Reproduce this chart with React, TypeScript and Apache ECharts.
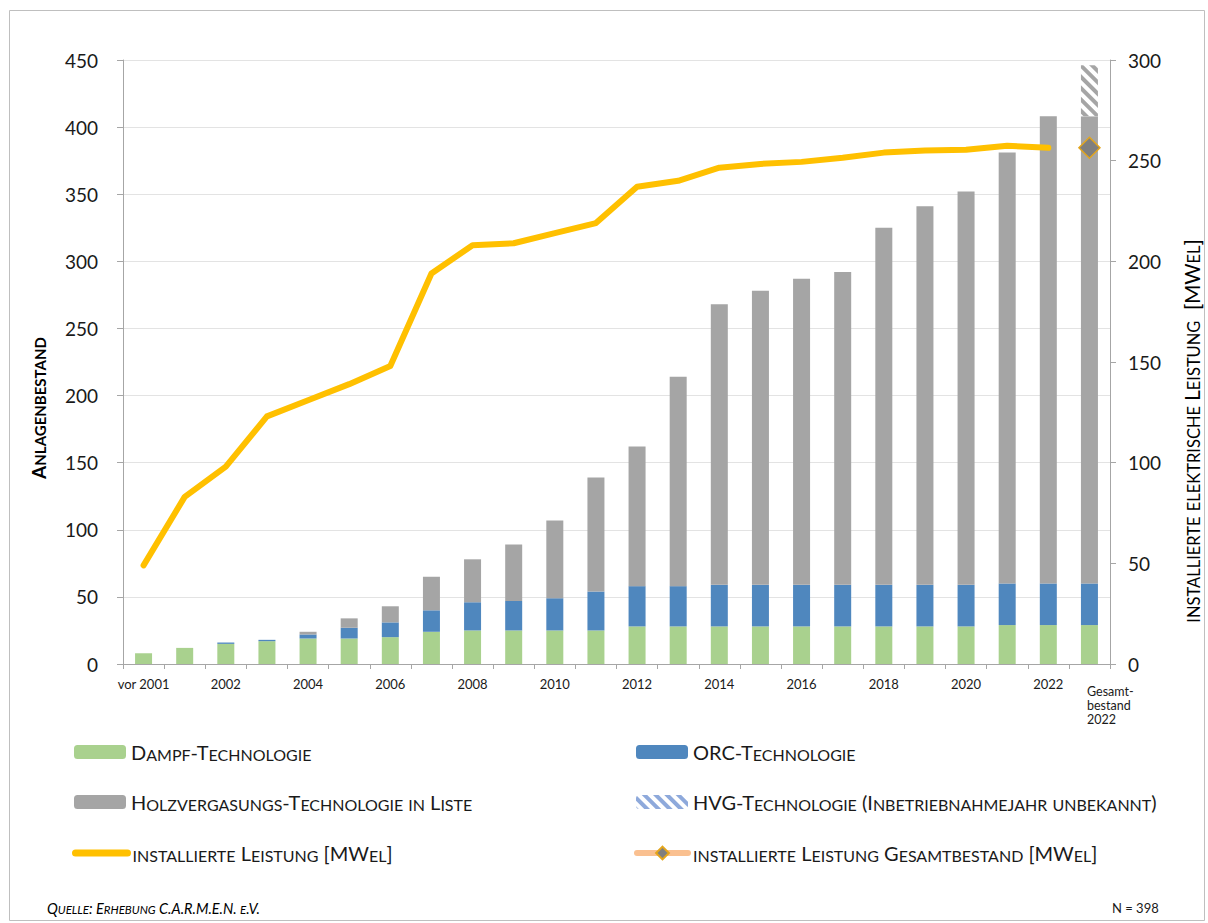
import React, { useEffect, useRef } from 'react';
import * as echarts from 'echarts';

const FONT = 'Lato, "Noto Sans", sans-serif';

const categories = ['vor 2001', '2001', '2002', '2003', '2004', '2005', '2006', '2007', '2008', '2009', '2010', '2011', '2012', '2013', '2014', '2015', '2016', '2017', '2018', '2019', '2020', '2021', '2022', 'Gesamtbestand 2022'];
const lastCategoryLabel = 'Gesamt-\nbestand\n2022';

const dampf = [8, 12, 15, 17, 19, 19, 20, 24, 25, 25, 25, 25, 28, 28, 28, 28, 28, 28, 28, 28, 28, 29, 29, 29];
const orc = [0, 0, 1, 1, 3, 8, 11, 16, 21, 22, 24, 29, 30, 30, 31, 31, 31, 31, 31, 31, 31, 31, 31, 31];
const hvgListe = [0, 0, 0, 0, 2, 7, 12, 25, 32, 42, 58, 85, 104, 156, 209, 219, 228, 233, 266, 282, 293, 321, 348, 348];
const hvgUnbekannt = [null, null, null, null, null, null, null, null, null, null, null, null, null, null, null, null, null, null, null, null, null, null, null, 38];
const leistung = [49, 83, 98, 123, 131, 139, 148, 194, 208, 209, 214, 219, 237, 240, 246.5, 248.4, 249.4, 251.4, 254, 255, 255.4, 257.4, 256.4, null];
const leistungGesamt = [null, null, null, null, null, null, null, null, null, null, null, null, null, null, null, null, null, null, null, null, null, null, null, 256.4];

const leftTicks = { min: 0, max: 450, interval: 50 };
const rightTicks = { min: 0, max: 300, interval: 50 };

const N_NAMES = {
  dampf: 'Dampf-Technologie',
  orc: 'ORC-Technologie',
  hvg: 'Holzvergasungs-Technologie in Liste',
  hvgU: 'HVG-Technologie (Inbetriebnahmejahr unbekannt)',
  line: 'installierte Leistung [MWel]',
  lineG: 'installierte Leistung Gesamtbestand [MWel]',
};

// small caps helper -> rich text
function sc(t: string): string {
  let out = '';
  let cur = '';
  let mode = '';
  for (const ch of t) {
    const lower = ch !== ch.toUpperCase();
    const m = lower ? 's' : 'b';
    if (m !== mode) {
      if (cur) out += `{${mode}|${cur}}`;
      cur = '';
      mode = m;
    }
    cur += lower ? ch.toUpperCase() : ch;
  }
  if (cur) out += `{${mode}|${cur}}`;
  return out;
}

const richFor = (big: number, small: number, extra: any = {}) => ({
  b: { fontSize: big, fontFamily: FONT, color: '#1a1a1a', verticalAlign: 'bottom', ...extra },
  s: { fontSize: small, fontFamily: FONT, color: '#1a1a1a', verticalAlign: 'bottom', ...extra },
});

const legendRich = richFor(20, 16);

function legendAt(item: any, left: number, centerY: number, extra: any = {}) {
  const ih = extra.itemHeight || 14;
  return {
    show: true,
    data: [item],
    left,
    padding: 0,
    itemWidth: 52,
    itemHeight: 14,
    selectedMode: false,
    formatter: (n: string) => sc(n),
    textStyle: { rich: legendRich, fontFamily: FONT },
    ...extra,
    top: centerY - Math.max(ih, 24) / 2,
  };
}

const hatch = (color: string) => ({
  symbol: 'rect',
  color,
  backgroundColor: '#fff',
  dashArrayX: [1, 0],
  dashArrayY: [4, 4],
  rotation: Math.PI / 4,
});

const option: any = {
  animation: false,
  backgroundColor: '#fff',
  textStyle: { fontFamily: FONT },
  grid: { left: 123, right: 98, top: 60, bottom: 259, containLabel: false },
  xAxis: {
    type: 'category',
    data: categories,
    axisLine: { lineStyle: { color: '#A6A6A6', width: 1 } },
    axisTick: { show: true, interval: 0, length: 5, lineStyle: { color: '#A6A6A6' } },
    axisLabel: {
      interval: 0,
      fontSize: 13,
      color: '#1a1a1a',
      fontFamily: FONT,
      margin: 13,
      formatter: (v: string, i: number) => (i === categories.length - 1 ? '' : i % 2 === 0 ? v : ''),
    },
  },
  yAxis: [
    {
      type: 'value',
      ...leftTicks,
      position: 'left',
      axisLine: { show: true, lineStyle: { color: '#A6A6A6' } },
      axisTick: { show: true, length: 6, lineStyle: { color: '#A6A6A6' } },
      axisLabel: { fontSize: 19, color: '#1a1a1a', margin: 25, fontFamily: FONT },
      splitLine: { show: true, lineStyle: { color: '#E3E3E3', width: 1 } },
    },
    {
      type: 'value',
      ...rightTicks,
      position: 'right',
      axisLine: { show: true, lineStyle: { color: '#A6A6A6' } },
      axisTick: { show: true, length: 6, lineStyle: { color: '#A6A6A6' } },
      axisLabel: { fontSize: 19, color: '#1a1a1a', margin: 18, fontFamily: FONT },
      splitLine: { show: false },
    },
  ],
  legend: [
    legendAt(N_NAMES.dampf, 74, 754),
    legendAt(N_NAMES.orc, 636, 754),
    legendAt(N_NAMES.hvg, 74, 804),
    legendAt({ name: N_NAMES.hvgU, itemStyle: { color: '#fff', decal: hatch('#8EA9DB') } }, 636, 804),
    legendAt(
      { name: N_NAMES.line, itemStyle: { opacity: 0 } },
      72,
      855,
      { itemWidth: 52, lineStyle: { width: 7, cap: 'round', color: '#FFC000' } }
    ),
    legendAt(N_NAMES.lineG, 634, 855, {
      itemWidth: 51,
      itemHeight: 16,
      lineStyle: { width: 6, cap: 'round', color: '#FAC090' },
    }),
  ],
  series: [
    {
      name: N_NAMES.dampf,
      type: 'bar',
      stack: 'a',
      barWidth: 17,
      data: dampf,
      itemStyle: { color: '#A9D18E' },
    },
    {
      name: N_NAMES.orc,
      type: 'bar',
      stack: 'a',
      barWidth: 17,
      data: orc,
      itemStyle: { color: '#4F87BE' },
    },
    {
      name: N_NAMES.hvg,
      type: 'bar',
      stack: 'a',
      barWidth: 17,
      data: hvgListe,
      itemStyle: { color: '#A5A5A5' },
    },
    {
      name: N_NAMES.hvgU,
      type: 'bar',
      stack: 'a',
      barWidth: 17,
      data: hvgUnbekannt,
      itemStyle: { color: '#fff', decal: hatch('#A5A5A5') },
    },
    {
      name: N_NAMES.line,
      type: 'line',
      yAxisIndex: 1,
      data: leistung,
      symbol: 'none',
      lineStyle: { color: '#FFC000', width: 6, cap: 'round', join: 'round' },
      itemStyle: { color: '#FFC000' },
      z: 5,
    },
    {
      name: N_NAMES.lineG,
      type: 'line',
      yAxisIndex: 1,
      data: leistungGesamt,
      symbol: 'diamond',
      symbolSize: 21,
      showSymbol: true,
      lineStyle: { color: '#FAC090', width: 6 },
      itemStyle: { color: '#7F7F7F', borderColor: '#E3A51C', borderWidth: 1.5 },
      z: 6,
    },
  ],
  graphic: [
    {
      type: 'rect',
      silent: true,
      z: -10,
      shape: { x: 9.5, y: 10.5, width: 1195, height: 910 },
      style: { fill: 'none', stroke: '#BFBFBF', lineWidth: 1 },
    },
    {
      type: 'text',
      x: 1087,
      y: 684,
      style: {
        text: lastCategoryLabel,
        align: 'left',
        verticalAlign: 'top',
        fontSize: 12.5,
        lineHeight: 14,
        fontFamily: FONT,
        fill: '#1a1a1a',
      },
    },
    {
      type: 'text',
      x: 38,
      y: 408,
      rotation: Math.PI / 2,
      style: {
        text: sc('Anlagenbestand'),
        align: 'center',
        verticalAlign: 'middle',
        rich: richFor(19, 15, { fontWeight: 'bold' }),
      },
    },
    {
      type: 'text',
      x: 1192,
      y: 431,
      rotation: Math.PI / 2,
      style: {
        text: sc('installierte elektrische Leistung  [MWel]'),
        align: 'center',
        verticalAlign: 'middle',
        rich: richFor(20.5, 16.5),
      },
    },
    {
      type: 'text',
      x: 47,
      y: 908,
      style: {
        text: sc('Quelle: Erhebung C.A.R.M.E.N. e.V.'),
        align: 'left',
        verticalAlign: 'middle',
        rich: richFor(14.5, 11.5, { fontStyle: 'italic' }),
      },
    },
    {
      type: 'text',
      x: 1112,
      y: 908,
      style: {
        text: 'N = 398',
        align: 'left',
        verticalAlign: 'middle',
        fontSize: 13,
        fontFamily: FONT,
        fill: '#1a1a1a',
      },
    },
  ],
};

export default function App() {
  const ref = useRef<HTMLDivElement>(null);
  useEffect(() => {
    const chart = echarts.init(ref.current!, null, { renderer: 'svg' });
    chart.setOption(option);
    return () => chart.dispose();
  }, []);
  return (
    <div
      ref={ref}
      style={{ position: 'absolute', left: 0, top: 0, width: 1208, height: 923, background: '#fff' }}
    />
  );
}
